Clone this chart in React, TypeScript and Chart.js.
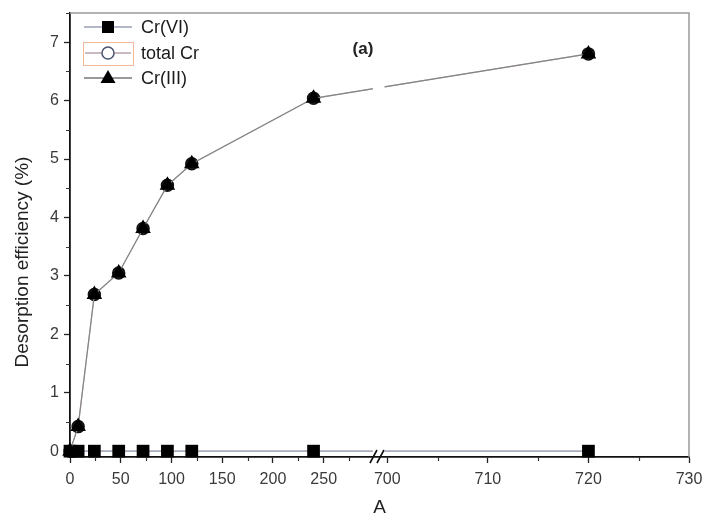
import React, { useEffect, useRef } from "react";
import { Chart, registerables } from "chart.js";

Chart.register(...registerables);

// ---- data ----
const TIME = [0, 8, 24, 48, 72, 96, 120, 240, 720];
const CR_VI = [0, 0, 0, 0, 0, 0, 0, 0, 0];
const TOTAL_CR = [0, 0.42, 2.68, 3.05, 3.81, 4.55, 4.92, 6.04, 6.8];
const CR_III = [0, 0.42, 2.68, 3.05, 3.81, 4.55, 4.92, 6.04, 6.8];

const X_TICKS = [0, 50, 100, 150, 200, 250, 700, 710, 720, 730];
const X_MINOR = [25, 75, 125, 175, 225, 275, 705, 715, 725];
const Y_TICKS = [0, 1, 2, 3, 4, 5, 6, 7];
const Y_MINOR = [0.5, 1.5, 2.5, 3.5, 4.5, 5.5, 6.5, 7.5];

const SERIES_NAMES = ["Cr(VI)", "total Cr", "Cr(III)"];

// broken axis: 0..~300 linear, then 700..730 expanded
const BREAK_U = 312.7;
const SEG2 = 9.91;
const X_MAX_U = 610;
const toU = (x: number) => (x <= 300 ? x : BREAK_U + (x - 700) * SEG2);

const FONT = "'Liberation Sans', Arial, sans-serif";

const pts = (ys: number[]) => TIME.map((t, i) => ({ x: toU(t), y: ys[i] }));

const decor = {
  id: "decor",
  afterDatasetsDraw(chart: any) {
    const { ctx, chartArea, scales } = chart;
    const x = scales.x;
    const a = x.getPixelForValue(298.5);
    const b = x.getPixelForValue(310);
    ctx.save();
    ctx.fillStyle = "#ffffff";
    ctx.fillRect(a, chartArea.top + 2, b - a, chartArea.bottom - chartArea.top - 4);
    ctx.restore();
  },
  afterDraw(chart: any) {
    const { ctx, chartArea, scales } = chart;
    const x = scales.x;
    const y = scales.y;
    ctx.save();
    // top / right frame
    ctx.strokeStyle = "#9a9a9a";
    ctx.lineWidth = 1.5;
    ctx.beginPath();
    ctx.moveTo(chartArea.left, chartArea.top);
    ctx.lineTo(chartArea.right, chartArea.top);
    ctx.lineTo(chartArea.right, chartArea.bottom);
    ctx.stroke();

    // minor ticks
    ctx.strokeStyle = "#333";
    ctx.lineWidth = 1.2;
    ctx.beginPath();
    X_MINOR.forEach((v) => {
      const px = Math.round(x.getPixelForValue(toU(v))) + 0.5;
      ctx.moveTo(px, chartArea.bottom);
      ctx.lineTo(px, chartArea.bottom + 4);
    });
    Y_MINOR.forEach((v) => {
      const py = Math.round(y.getPixelForValue(v)) + 0.5;
      ctx.moveTo(chartArea.left, py);
      ctx.lineTo(chartArea.left - 4, py);
    });
    ctx.stroke();

    // break marks
    const cx = x.getPixelForValue(303.5);
    const by = chartArea.bottom;
    ctx.strokeStyle = "#111";
    ctx.lineWidth = 1.6;
    ctx.beginPath();
    ctx.moveTo(cx - 8, by + 6);
    ctx.lineTo(cx - 1, by - 7);
    ctx.moveTo(cx - 1, by + 6);
    ctx.lineTo(cx + 6, by - 7);
    ctx.stroke();

    // legend
    const lx0 = 84, lx1 = 132, mx = 108, tx = 141;
    const rows = [27, 53, 78];
    ctx.textBaseline = "middle";
    // Cr(VI)
    ctx.strokeStyle = "#9aa0b4";
    ctx.lineWidth = 1.5;
    ctx.beginPath(); ctx.moveTo(lx0, rows[0]); ctx.lineTo(lx1, rows[0]); ctx.stroke();
    ctx.fillStyle = "#000";
    ctx.fillRect(mx - 6, rows[0] - 6, 12, 12);
    // total Cr
    ctx.strokeStyle = "#f2b899";
    ctx.lineWidth = 1;
    ctx.strokeRect(83.5, 42.5, 50, 23);
    ctx.strokeStyle = "#b9a3b0";
    ctx.lineWidth = 1.5;
    ctx.beginPath(); ctx.moveTo(lx0 + 1, rows[1]); ctx.lineTo(lx1 - 1, rows[1]); ctx.stroke();
    ctx.fillStyle = "#fff";
    ctx.strokeStyle = "#4a5570";
    ctx.beginPath(); ctx.arc(mx, rows[1], 6, 0, Math.PI * 2); ctx.fill(); ctx.stroke();
    // Cr(III)
    ctx.strokeStyle = "#777";
    ctx.lineWidth = 1.3;
    ctx.beginPath(); ctx.moveTo(lx0, rows[2]); ctx.lineTo(lx1, rows[2]); ctx.stroke();
    ctx.fillStyle = "#000";
    ctx.beginPath();
    ctx.moveTo(mx, rows[2] - 8);
    ctx.lineTo(mx + 7.5, rows[2] + 5);
    ctx.lineTo(mx - 7.5, rows[2] + 5);
    ctx.closePath();
    ctx.fill();
    ctx.font = `18px ${FONT}`;
    ctx.fillStyle = "#1a1a1a";
    SERIES_NAMES.forEach((n, i) => ctx.fillText(n, tx, rows[i] + 1));

    // panel label
    ctx.font = `bold 17px ${FONT}`;
    ctx.textAlign = "center";
    ctx.fillStyle = "#222";
    ctx.fillText("(a)", 363, 49);

    // y title
    ctx.font = `19px ${FONT}`;
    ctx.fillStyle = "#222";
    ctx.translate(23, 262);
    ctx.rotate(-Math.PI / 2);
    ctx.textAlign = "center";
    ctx.fillText("Desorption efficiency (%)", 0, 0);
    ctx.restore();
  },
};

export default function App() {
  const ref = useRef<HTMLCanvasElement | null>(null);
  useEffect(() => {
    if (!ref.current) return;
    const chart = new Chart(ref.current, {
      type: "line",
      data: {
        datasets: [
          {
            label: SERIES_NAMES[0],
            data: pts(CR_VI),
            borderColor: "#a8adbb",
            borderWidth: 1.8,
            pointStyle: "rect",
            pointRadius: 9,
            pointBackgroundColor: "#000",
            pointBorderColor: "#000",
            pointBorderWidth: 0,
            order: 1,
            clip: false,
          },
          {
            label: SERIES_NAMES[1],
            data: pts(TOTAL_CR),
            borderColor: "#c9b2b8",
            borderWidth: 1.2,
            pointStyle: "circle",
            pointRadius: 6,
            pointBackgroundColor: "#222",
            pointBorderColor: "#111",
            pointBorderWidth: 1.5,
            order: 2,
            clip: false,
          },
          {
            label: SERIES_NAMES[2],
            data: pts(CR_III),
            borderColor: "#858585",
            borderWidth: 1.2,
            pointStyle: "triangle",
            pointRadius: 9,
            pointBackgroundColor: "#000",
            pointBorderColor: "#000",
            pointBorderWidth: 0,
            order: 0,
            clip: false,
          },
        ],
      },
      options: {
        animation: false,
        responsive: false,
        devicePixelRatio: 1,
        layout: { padding: { top: 13, right: 14, left: 0, bottom: 0 } },
        plugins: { legend: { display: false }, tooltip: { enabled: false } },
        scales: {
          x: {
            type: "linear",
            min: 0,
            max: X_MAX_U,
            afterFit: (s: any) => {
              s.height = 62;
              s.paddingLeft = 0;
              s.paddingRight = 0;
            },
            afterBuildTicks: (s: any) => {
              s.ticks = X_TICKS.map((v) => ({ value: toU(v) }));
            },
            ticks: {
              autoSkip: false,
              maxRotation: 0,
              padding: 7,
              color: "#3a3a3a",
              font: { family: FONT, size: 16 },
              callback: (_v: any, i: number) => String(X_TICKS[i]),
            },
            grid: { drawOnChartArea: false, tickLength: 6, tickColor: "#222", tickWidth: 1.3 },
            border: { color: "#111", width: 1.8 },
            title: {
              display: true,
              text: "A",
              color: "#222",
              font: { family: FONT, size: 19 },
              padding: { top: 7, bottom: 0 },
            },
          },
          y: {
            type: "linear",
            min: -0.1,
            max: 7.5,
            afterFit: (s: any) => {
              s.width = 70;
              s.paddingTop = 0;
              s.paddingBottom = 0;
            },
            afterBuildTicks: (s: any) => {
              s.ticks = Y_TICKS.map((v) => ({ value: v }));
            },
            ticks: {
              padding: 5,
              color: "#3a3a3a",
              font: { family: FONT, size: 16 },
              callback: (v: any) => String(v),
            },
            grid: { drawOnChartArea: false, tickLength: 6, tickColor: "#222", tickWidth: 1.3 },
            border: { color: "#111", width: 1.8 },
          },
        },
      },
      plugins: [decor],
    });
    return () => chart.destroy();
  }, []);
  return (
    <div style={{ position: "absolute", left: 0, top: 0, width: 703, height: 519, background: "#fff" }}>
      <canvas ref={ref} width={703} height={519} />
    </div>
  );
}
